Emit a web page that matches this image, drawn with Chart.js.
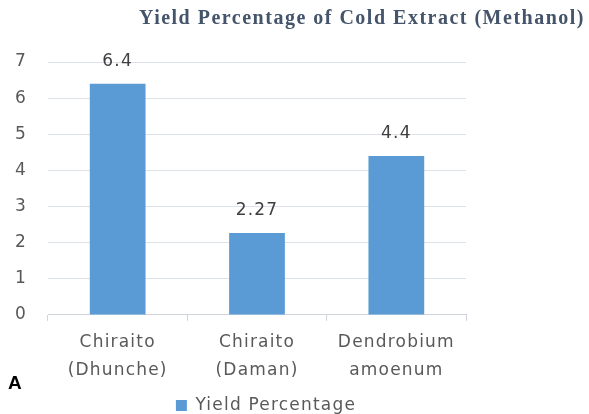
<!DOCTYPE html>
<html>
<head>
<meta charset="utf-8">
<script src="https://cdn.jsdelivr.net/npm/chart.js@4"></script>
<style>
  html, body { margin: 0; padding: 0; background: #fff; }
  #wrap { width: 589px; height: 414px; }
</style>
</head>
<body>
<div id="wrap"><canvas id="chart" width="589" height="414"></canvas></div>
<script>
const categories = [["Chiraito", "(Dhunche)"], ["Chiraito", "(Daman)"], ["Dendrobium", "amoenum"]];
const yieldValues = [6.4, 2.27, 4.4];
const yTicks = [0, 1, 2, 3, 4, 5, 6, 7];
const seriesName = "Yield Percentage";
const titleText = "Yield Percentage of Cold Extract (Methanol)";
const panelLabel = "A";

const textFont = "DejaVu Sans";
const grey = "#595959";

// value labels above the bars, title and panel letter
const extras = {
  id: "extras",
  beforeUpdate(chart) {
    // the original text is set quite loose
    chart.ctx.letterSpacing = "1.2px";
  },
  afterLayout(chart) {
    // legend sits a bit right of the plot centre in the original
    chart.legend.left = 84;
    chart.legend.right = 448;
  },
  afterDatasetsDraw(chart) {
    const ctx = chart.ctx;
    const meta = chart.getDatasetMeta(0);
    ctx.save();
    ctx.font = "17px " + textFont;
    ctx.fillStyle = "#404040";
    ctx.textAlign = "center";
    ctx.textBaseline = "middle";
    meta.data.forEach((bar, i) => {
      ctx.fillText(String(yieldValues[i]), bar.x, bar.y - 22);
    });
    ctx.restore();
  },
  afterDraw(chart) {
    const ctx = chart.ctx;
    ctx.save();
    ctx.letterSpacing = "1.5px";
    ctx.font = "bold 20px 'Liberation Serif'";
    ctx.fillStyle = "#44546A";
    ctx.textAlign = "right";
    ctx.textBaseline = "middle";
    ctx.fillText(titleText, 585, 19);
    ctx.letterSpacing = "0px";
    ctx.font = "bold 19px 'Liberation Sans'";
    ctx.fillStyle = "#000";
    ctx.textAlign = "left";
    ctx.fillText(panelLabel, 8, 384);
    ctx.restore();
  }
};

new Chart(document.getElementById("chart"), {
  type: "bar",
  data: {
    labels: categories,
    datasets: [{
      label: seriesName,
      data: yieldValues,
      backgroundColor: "#5B9BD5",
      borderWidth: 0,
      categoryPercentage: 1,
      barPercentage: 0.4
    }]
  },
  options: {
    responsive: false,
    animation: false,
    layout: { padding: { left: 13, right: 123, top: 62, bottom: -10 } },
    plugins: {
      legend: {
        position: "bottom",
        labels: {
          boxWidth: 11,
          boxHeight: 11,
          padding: 4,
          color: grey,
          font: { family: textFont, size: 17 }
        }
      },
      title: { display: false },
      tooltip: { enabled: false }
    },
    scales: {
      x: {
        grid: { drawOnChartArea: false, drawTicks: true, tickLength: 6, color: "#D0D5DD" },
        border: { color: "#D0D5DD" },
        ticks: {
          color: grey,
          padding: 8,
          maxRotation: 0,
          font: { family: textFont, size: 17, lineHeight: 1.65 }
        }
      },
      y: {
        min: 0,
        max: yTicks[yTicks.length - 1],
        afterBuildTicks(scale) {
          scale.ticks = yTicks.map(v => ({ value: v }));
        },
        afterFit(scale) {
          scale.width = 35;
        },
        grid: { color: "#DDE1E8", drawTicks: false },
        border: { display: false },
        ticks: {
          color: grey,
          padding: 21,
          font: { family: textFont, size: 17 }
        }
      }
    }
  },
  plugins: [extras]
});
</script>
</body>
</html>
